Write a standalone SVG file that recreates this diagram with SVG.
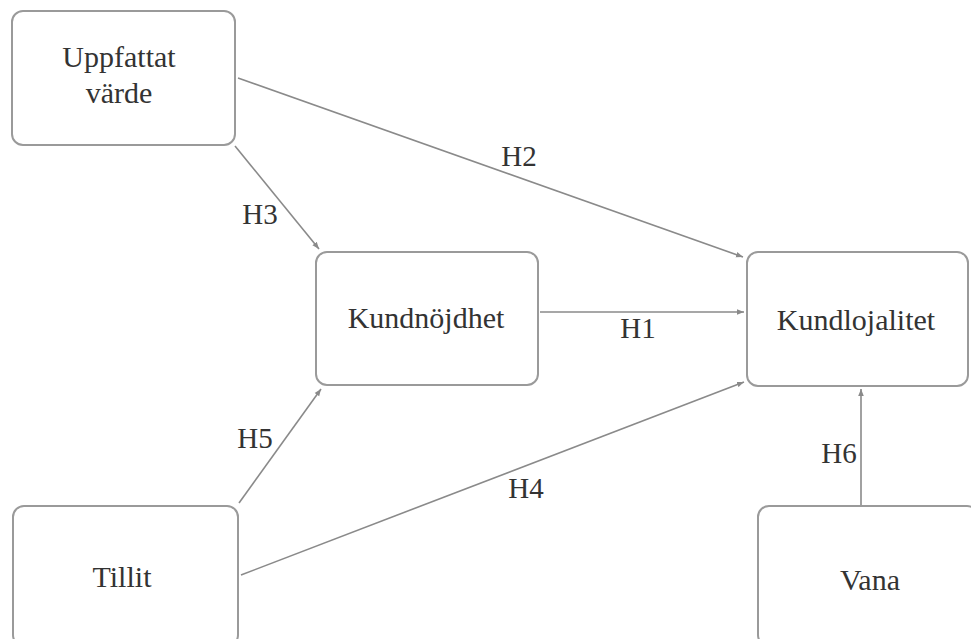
<svg xmlns="http://www.w3.org/2000/svg" width="971" height="639" viewBox="0 0 971 639">
<style>
.box{fill:#fff;stroke:#9a9a9a;stroke-width:2}
.t{font-family:"Liberation Serif","Times New Roman",serif;font-size:30px;fill:#333;text-anchor:middle}
.l{font-family:"Liberation Serif","Times New Roman",serif;font-size:29px;fill:#333;text-anchor:middle}
.c{stroke:#8a8a8a;stroke-width:1.6;fill:none;marker-end:url(#ah)}
</style>
<defs>
<marker id="ah" viewBox="0 0 10 10" refX="10" refY="5" markerWidth="7" markerHeight="7" markerUnits="userSpaceOnUse" orient="auto">
<path d="M0,1 L10,5 L0,9 Z" fill="#8a8a8a"/>
</marker>
</defs>
<rect width="971" height="639" fill="#fff"/>
<g id="connectors">
<line class="c" x1="238" y1="78" x2="743" y2="257"/>
<line class="c" x1="235" y1="146" x2="319" y2="249"/>
<line class="c" x1="540" y1="312" x2="744" y2="312"/>
<line class="c" x1="239" y1="503" x2="321" y2="389"/>
<line class="c" x1="241" y1="575" x2="744" y2="382"/>
<line class="c" x1="861" y1="506" x2="861" y2="389"/>
<text class="l" x="519" y="166">H2</text>
<text class="l" x="260" y="224">H3</text>
<text class="l" x="638" y="338">H1</text>
<text class="l" x="255" y="448">H5</text>
<text class="l" x="526" y="498">H4</text>
<text class="l" x="839" y="463">H6</text>
</g>
<g id="uppfattat">
<rect class="box" x="12" y="11" width="223" height="134" rx="11"/>
<text class="t" x="119" y="67">Uppfattat</text>
<text class="t" x="119" y="103">värde</text>
</g>
<g id="kundnojdhet">
<rect class="box" x="316" y="252" width="222" height="133" rx="11"/>
<text class="t" x="426" y="328">Kundnöjdhet</text>
</g>
<g id="kundlojalitet">
<rect class="box" x="747" y="252" width="221" height="134" rx="11"/>
<text class="t" x="856" y="330">Kundlojalitet</text>
</g>
<g id="tillit">
<rect class="box" x="13" y="506" width="225" height="140" rx="11"/>
<text class="t" x="122" y="587">Tillit</text>
</g>
<g id="vana">
<rect class="box" x="758" y="506" width="220" height="140" rx="11"/>
<text class="t" x="870" y="590">Vana</text>
</g>
</svg>
